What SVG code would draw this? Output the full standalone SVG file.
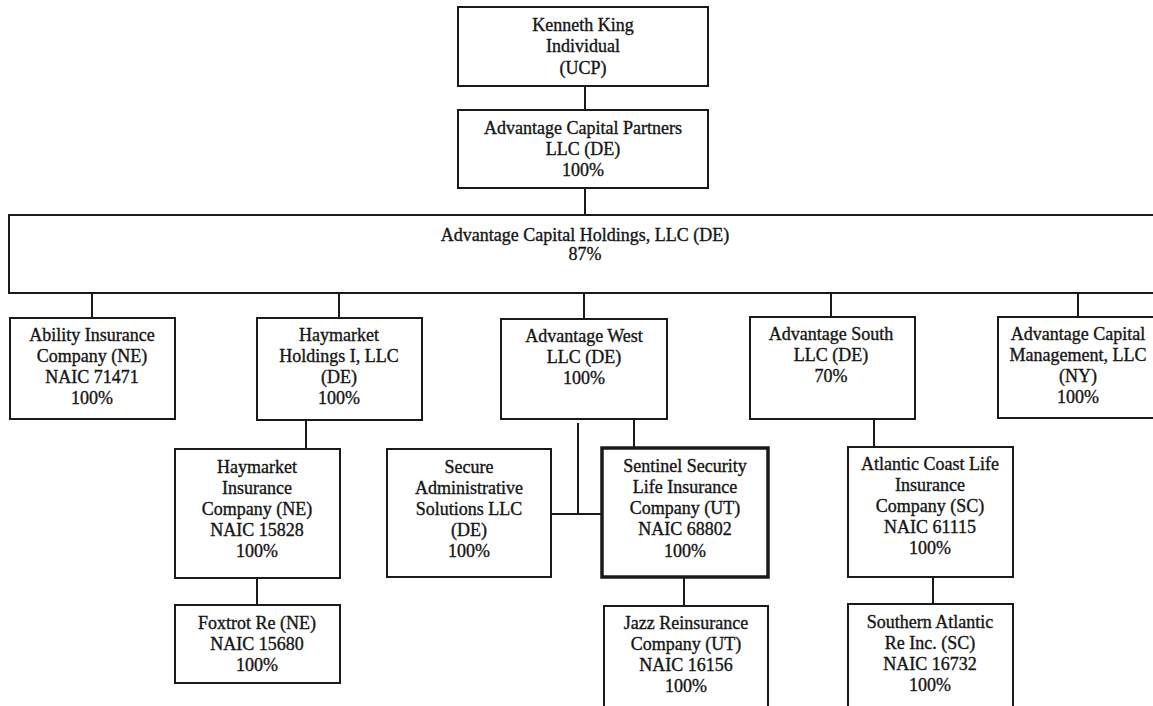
<svg xmlns="http://www.w3.org/2000/svg" width="1153" height="706" viewBox="0 0 1153 706">
<style>
.box{fill:#fff;stroke:#1a1a1a;stroke-width:2}
.thick{fill:#fff;stroke:#1a1a1a;stroke-width:3.5}
.t{font-family:"Liberation Serif","Times New Roman",serif;font-size:18px;fill:#151515;stroke:#151515;stroke-width:0.35;text-anchor:middle}
.c{stroke:#1a1a1a;stroke-width:2;fill:none}
</style>
<rect width="1153" height="706" fill="#fff"/>
<g id="connectors">
<line class="c" x1="585" y1="86" x2="585" y2="110"/>
<line class="c" x1="585" y1="188" x2="585" y2="215"/>
<line class="c" x1="92" y1="293" x2="92" y2="318"/>
<line class="c" x1="339" y1="293" x2="339" y2="318"/>
<line class="c" x1="584" y1="293" x2="584" y2="319"/>
<line class="c" x1="831" y1="293" x2="831" y2="317"/>
<line class="c" x1="1078" y1="293" x2="1078" y2="317"/>
<line class="c" x1="306" y1="420" x2="306" y2="449"/>
<line class="c" x1="257" y1="578" x2="257" y2="605"/>
<line class="c" x1="578" y1="423" x2="578" y2="514"/>
<line class="c" x1="551" y1="514" x2="602" y2="514"/>
<line class="c" x1="634" y1="419" x2="634" y2="448"/>
<line class="c" x1="684" y1="577" x2="684" y2="606"/>
<line class="c" x1="874" y1="419" x2="874" y2="447"/>
<line class="c" x1="933" y1="577" x2="933" y2="604"/>
</g>
<g id="kenneth-king">
<rect class="box" x="458" y="7" width="250" height="79"/>
<text class="t" x="583" y="31">Kenneth King</text>
<text class="t" x="583" y="52">Individual</text>
<text class="t" x="583" y="74">(UCP)</text>
</g>
<g id="advantage-capital-partners">
<rect class="box" x="458" y="110" width="250" height="78"/>
<text class="t" x="583" y="134">Advantage Capital Partners</text>
<text class="t" x="583" y="155">LLC (DE)</text>
<text class="t" x="583" y="176">100%</text>
</g>
<g id="advantage-capital-holdings">
<rect class="box" x="9" y="215" width="1155" height="78"/>
<text class="t" x="585" y="241">Advantage Capital Holdings, LLC (DE)</text>
<text class="t" x="585" y="260">87%</text>
</g>
<g id="ability-insurance">
<rect class="box" x="10" y="318" width="165" height="101"/>
<text class="t" x="92" y="341">Ability Insurance</text>
<text class="t" x="92" y="362">Company (NE)</text>
<text class="t" x="92" y="383">NAIC 71471</text>
<text class="t" x="92" y="404">100%</text>
</g>
<g id="haymarket-holdings">
<rect class="box" x="257" y="318" width="165" height="102"/>
<text class="t" x="339" y="341">Haymarket</text>
<text class="t" x="339" y="362">Holdings I, LLC</text>
<text class="t" x="339" y="383">(DE)</text>
<text class="t" x="339" y="404">100%</text>
</g>
<g id="advantage-west">
<rect class="box" x="501" y="319" width="166" height="100"/>
<text class="t" x="584" y="342">Advantage West</text>
<text class="t" x="584" y="363">LLC (DE)</text>
<text class="t" x="584" y="384">100%</text>
</g>
<g id="advantage-south">
<rect class="box" x="750" y="317" width="165" height="102"/>
<text class="t" x="831" y="340">Advantage South</text>
<text class="t" x="831" y="361">LLC (DE)</text>
<text class="t" x="831" y="382">70%</text>
</g>
<g id="advantage-capital-management">
<rect class="box" x="998" y="317" width="165" height="101"/>
<text class="t" x="1078" y="340">Advantage Capital</text>
<text class="t" x="1078" y="361">Management, LLC</text>
<text class="t" x="1078" y="382">(NY)</text>
<text class="t" x="1078" y="403">100%</text>
</g>
<g id="haymarket-insurance">
<rect class="box" x="175" y="449" width="165" height="129"/>
<text class="t" x="257" y="473">Haymarket</text>
<text class="t" x="257" y="494">Insurance</text>
<text class="t" x="257" y="515">Company (NE)</text>
<text class="t" x="257" y="536">NAIC 15828</text>
<text class="t" x="257" y="557">100%</text>
</g>
<g id="foxtrot-re">
<rect class="box" x="175" y="605" width="165" height="78"/>
<text class="t" x="257" y="629">Foxtrot Re (NE)</text>
<text class="t" x="257" y="650">NAIC 15680</text>
<text class="t" x="257" y="671">100%</text>
</g>
<g id="secure-administrative">
<rect class="box" x="387" y="449" width="164" height="128"/>
<text class="t" x="469" y="473">Secure</text>
<text class="t" x="469" y="494">Administrative</text>
<text class="t" x="469" y="515">Solutions LLC</text>
<text class="t" x="469" y="536">(DE)</text>
<text class="t" x="469" y="557">100%</text>
</g>
<g id="sentinel-security">
<rect class="thick" x="602" y="448" width="166" height="129"/>
<text class="t" x="685" y="472">Sentinel Security</text>
<text class="t" x="685" y="493">Life Insurance</text>
<text class="t" x="685" y="514">Company (UT)</text>
<text class="t" x="685" y="535">NAIC 68802</text>
<text class="t" x="685" y="557">100%</text>
</g>
<g id="jazz-reinsurance">
<rect class="box" x="604" y="606" width="164" height="110"/>
<text class="t" x="686" y="629">Jazz Reinsurance</text>
<text class="t" x="686" y="650">Company (UT)</text>
<text class="t" x="686" y="671">NAIC 16156</text>
<text class="t" x="686" y="692">100%</text>
</g>
<g id="atlantic-coast-life">
<rect class="box" x="848" y="447" width="165" height="130"/>
<text class="t" x="930" y="470">Atlantic Coast Life</text>
<text class="t" x="930" y="491">Insurance</text>
<text class="t" x="930" y="512">Company (SC)</text>
<text class="t" x="930" y="533">NAIC 61115</text>
<text class="t" x="930" y="554">100%</text>
</g>
<g id="southern-atlantic-re">
<rect class="box" x="848" y="604" width="165" height="112"/>
<text class="t" x="930" y="628">Southern Atlantic</text>
<text class="t" x="930" y="649">Re Inc. (SC)</text>
<text class="t" x="930" y="670">NAIC 16732</text>
<text class="t" x="930" y="691">100%</text>
</g>
</svg>
